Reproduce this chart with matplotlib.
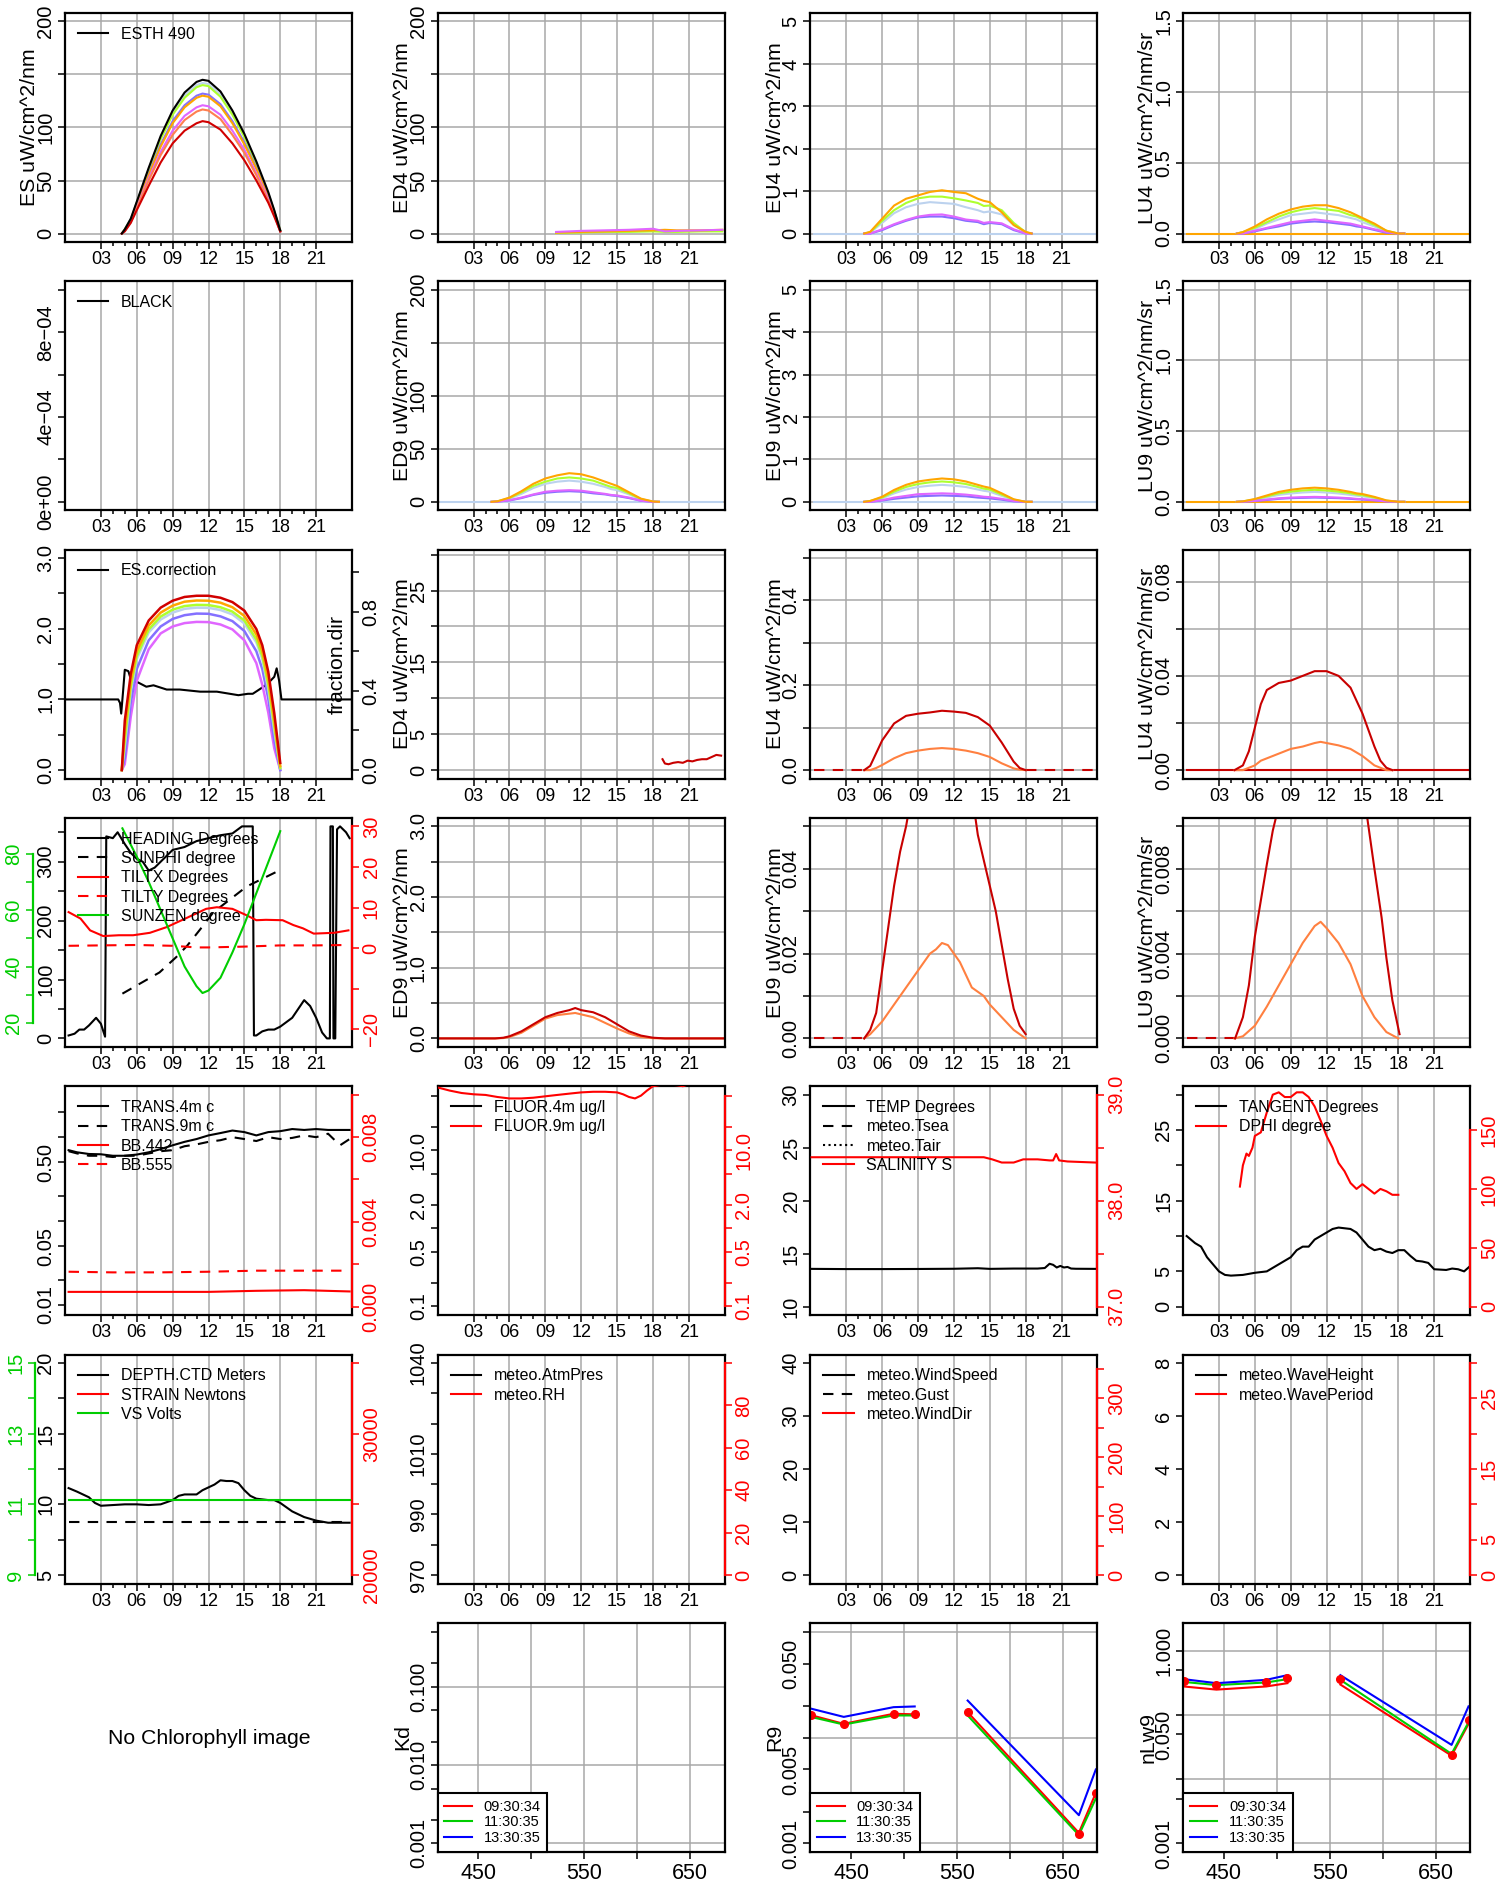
import numpy as np
import matplotlib.pyplot as plt
from matplotlib.lines import Line2D
from matplotlib.ticker import NullLocator

plt.rcParams['font.family'] = ['Liberation Sans', 'DejaVu Sans']

W, H = 1510, 1884
YT, XT, YL, LEG = 14.5, 13, 15.3, 11.5

# colours
C_LBLUE = '#bcd2ee'
C_GYEL = '#adff2f'
C_SBLUE = '#8470ff'
C_ORANGE = '#ffa500'
C_VIOLET = '#e066ff'
C_CORAL = '#ff7f50'
C_RED = '#d00000'
C_DRED = '#c80000'
C_LRED = '#ff8040'
RED = '#ff0000'
GREEN = '#00cd00'
BLUE = '#0000ff'
GRID = '#a8a8a8'

hour_ticks = [3, 6, 9, 12, 15, 18, 21]
hour_labels = ['03', '06', '09', '12', '15', '18', '21']
minor_hours = [4, 5, 7, 8, 10, 11, 13, 14, 16, 17, 19, 20]

# ---------------- row 1/2 : surface + in-water radiometry ----------------
es_t = [4.75, 5, 5.5, 6, 7, 8, 9, 10, 11, 11.5, 12, 13, 14, 15, 16, 17, 17.5, 18]
es_esth = [0, 4, 14, 30, 62, 92, 116, 133, 143, 145, 144, 134, 116, 94, 68, 39, 22, 3]
es_lblue = [0, 4, 14, 29, 61, 90, 114, 130, 140, 142, 141, 131, 114, 92, 66, 38, 21, 3]
es_gyel = [0, 4, 13, 29, 60, 89, 112, 128, 138, 140, 139, 129, 112, 91, 65, 37, 21, 3]
es_sblue = [0, 3, 12, 27, 56, 84, 106, 121, 130, 132, 131, 122, 106, 86, 62, 36, 20, 2]
es_orange = [0, 3, 12, 27, 55, 82, 104, 119, 128, 130, 129, 120, 104, 84, 61, 35, 20, 2]
es_violet = [0, 3, 11, 25, 52, 77, 97, 111, 119, 121, 120, 112, 97, 79, 57, 33, 18, 2]
es_coral = [0, 3, 11, 24, 50, 74, 93, 107, 115, 117, 116, 108, 93, 76, 55, 31, 18, 2]
es_red = [0, 2, 10, 22, 45, 67, 85, 97, 104, 106, 105, 98, 85, 69, 50, 29, 16, 2]

base_t = [0.3, 23.8]
base_v = [0, 0]

ed4_t = [9.9, 12, 14, 16, 18, 19, 20, 22, 23.8]
ed4_violet = [1.5, 2.5, 3, 3.5, 4.5, 2, 2.5, 3, 3.5]
ed4_orange = [0.8, 1.5, 2, 2.5, 3, 3.5, 3, 3, 3.5]
ed4_gyel = [0.5, 1, 1.5, 1.5, 2, 1.5, 1.5, 2, 2]

uw_t = [4.5, 5, 6, 7, 8, 9, 10, 11, 12, 13, 14, 14.5, 15, 16, 17, 18, 18.5]
eu4_orange = [0, 0.04, 0.35, 0.66, 0.82, 0.9, 0.98, 1.02, 0.98, 0.95, 0.82, 0.77, 0.74, 0.5, 0.2, 0.04, 0]
eu4_gyel = [0, 0.03, 0.3, 0.55, 0.72, 0.83, 0.87, 0.87, 0.83, 0.78, 0.72, 0.65, 0.66, 0.55, 0.25, 0.03, 0]
eu4_lblue = [0, 0.02, 0.25, 0.48, 0.62, 0.7, 0.74, 0.72, 0.7, 0.62, 0.55, 0.5, 0.52, 0.45, 0.2, 0.02, 0]
eu4_violet = [0, 0.0, 0.1, 0.22, 0.32, 0.4, 0.44, 0.45, 0.4, 0.33, 0.3, 0.25, 0.27, 0.24, 0.1, 0.0, 0]
eu4_sblue = [0, 0.0, 0.08, 0.2, 0.3, 0.38, 0.4, 0.4, 0.36, 0.3, 0.27, 0.22, 0.25, 0.22, 0.08, 0.0, 0]

lu4_orange = [0, 0.01, 0.05, 0.1, 0.14, 0.17, 0.19, 0.2, 0.2, 0.18, 0.15, 0.13, 0.11, 0.07, 0.02, 0.0, 0]
lu4_gyel = [0, 0.01, 0.04, 0.08, 0.12, 0.15, 0.17, 0.18, 0.17, 0.16, 0.13, 0.12, 0.1, 0.06, 0.02, 0.0, 0]
lu4_lblue = [0, 0.01, 0.03, 0.07, 0.1, 0.13, 0.14, 0.15, 0.14, 0.13, 0.11, 0.1, 0.08, 0.05, 0.01, 0.0, 0]
lu4_violet = [0, 0.0, 0.02, 0.04, 0.06, 0.08, 0.09, 0.1, 0.09, 0.08, 0.07, 0.06, 0.05, 0.03, 0.01, 0.0, 0]
lu4_sblue = [0, 0.0, 0.015, 0.035, 0.05, 0.07, 0.08, 0.085, 0.08, 0.07, 0.06, 0.05, 0.045, 0.025, 0.005, 0.0, 0]

ed9_orange = [0, 0.5, 4, 10, 17, 22, 25, 27, 26, 23, 19, 17, 15, 9, 3, 0.3, 0]
ed9_gyel = [0, 0.4, 3.5, 9, 15, 19, 22, 23, 22, 20, 16, 14, 13, 8, 2.5, 0.2, 0]
ed9_lblue = [0, 0.3, 3, 7.5, 13, 17, 19, 20, 19, 17, 14, 12, 11, 7, 2, 0.2, 0]
ed9_violet = [0, 0.2, 1.5, 4, 7, 9.5, 10.5, 11, 10.5, 9, 7.5, 6.5, 6, 4, 1, 0, 0]
ed9_sblue = [0, 0.2, 1.3, 3.5, 6.5, 8.5, 9.5, 10, 9.5, 8, 7, 6, 5.5, 3.5, 1, 0, 0]

eu9_orange = [0, 0.02, 0.12, 0.28, 0.4, 0.48, 0.52, 0.55, 0.53, 0.48, 0.4, 0.36, 0.33, 0.2, 0.06, 0.0, 0]
eu9_gyel = [0, 0.02, 0.1, 0.24, 0.35, 0.42, 0.46, 0.48, 0.46, 0.42, 0.35, 0.31, 0.29, 0.17, 0.05, 0.0, 0]
eu9_lblue = [0, 0.01, 0.08, 0.2, 0.29, 0.35, 0.38, 0.4, 0.38, 0.35, 0.29, 0.26, 0.24, 0.14, 0.04, 0.0, 0]
eu9_violet = [0, 0.0, 0.04, 0.1, 0.14, 0.18, 0.19, 0.2, 0.19, 0.17, 0.14, 0.12, 0.11, 0.07, 0.02, 0.0, 0]
eu9_sblue = [0, 0.0, 0.03, 0.07, 0.1, 0.13, 0.14, 0.15, 0.14, 0.13, 0.1, 0.09, 0.08, 0.05, 0.01, 0.0, 0]

lu9_orange = [0, 0.003, 0.02, 0.045, 0.07, 0.085, 0.095, 0.1, 0.095, 0.085, 0.07, 0.06, 0.055, 0.035, 0.01, 0.0, 0]
lu9_gyel = [0, 0.003, 0.017, 0.038, 0.06, 0.072, 0.08, 0.085, 0.08, 0.072, 0.06, 0.052, 0.047, 0.03, 0.008, 0, 0]
lu9_lblue = [0, 0.002, 0.014, 0.031, 0.049, 0.059, 0.066, 0.07, 0.066, 0.059, 0.049, 0.043, 0.039, 0.025, 0.007, 0, 0]
lu9_violet = [0, 0.001, 0.007, 0.016, 0.025, 0.03, 0.033, 0.035, 0.033, 0.03, 0.025, 0.021, 0.019, 0.012, 0.003, 0, 0]
lu9_sblue = [0, 0.001, 0.006, 0.013, 0.021, 0.026, 0.028, 0.03, 0.028, 0.026, 0.021, 0.018, 0.016, 0.01, 0.003, 0, 0]

# ---------------- row 3 : ES correction / fraction of direct ----------------
esc_t = [0.1, 4.45, 4.6, 4.7, 4.85, 5.0, 5.3, 5.6, 6.0, 6.8, 7.4, 8.5, 9.6, 11.3, 12.7,
         14.5, 15.3, 15.7, 16.6, 17.1, 17.5, 17.7, 17.9, 18.1, 23.9]
esc_v = [1.0, 1.0, 0.95, 0.8, 1.1, 1.42, 1.4, 1.23, 1.25, 1.18, 1.2, 1.14, 1.14, 1.11, 1.11,
         1.06, 1.08, 1.08, 1.18, 1.25, 1.32, 1.44, 1.27, 1.0, 1.0]
frac_t = [4.75, 5.0, 5.5, 6, 7, 8, 9, 10, 11, 12, 13, 14, 15, 16, 16.5, 17, 17.5, 18]
frac_red = [0, 0.25, 0.485, 0.63, 0.755, 0.82, 0.855, 0.874, 0.88, 0.88, 0.87, 0.848, 0.805, 0.712, 0.63, 0.496, 0.288, 0.036]
frac_orange = [0, 0.2, 0.45, 0.6, 0.73, 0.795, 0.83, 0.85, 0.856, 0.855, 0.845, 0.822, 0.778, 0.685, 0.6, 0.46, 0.25, 0.02]
frac_gyel = [0, 0.15, 0.42, 0.575, 0.71, 0.775, 0.81, 0.828, 0.834, 0.833, 0.822, 0.8, 0.755, 0.66, 0.575, 0.43, 0.22, 0.01]
frac_lblue = [0, 0.12, 0.4, 0.56, 0.695, 0.76, 0.795, 0.814, 0.82, 0.819, 0.808, 0.786, 0.74, 0.645, 0.56, 0.41, 0.2, 0.01]
frac_sblue = [0, 0.06, 0.34, 0.51, 0.655, 0.725, 0.763, 0.782, 0.79, 0.789, 0.776, 0.752, 0.702, 0.6, 0.51, 0.36, 0.15, 0.0]
frac_violet = [0, 0.03, 0.27, 0.45, 0.61, 0.69, 0.725, 0.742, 0.748, 0.747, 0.735, 0.71, 0.655, 0.54, 0.43, 0.29, 0.11, 0.0]

ed4b_t = [18.8, 19.0, 19.3, 19.7, 20.1, 20.5, 20.9, 21.3, 21.7, 22.1, 22.5, 22.9, 23.3, 23.7]
ed4b_v = [1.5, 0.9, 0.8, 1.0, 1.1, 1.0, 1.3, 1.2, 1.4, 1.5, 1.5, 1.8, 2.1, 2.0]

eu4b_t = [4.5, 5, 5.5, 6, 7, 8, 9, 10, 11, 12, 13, 14, 15, 16, 17, 17.5, 18]
eu4b_dred = [0, 0.01, 0.04, 0.07, 0.11, 0.128, 0.133, 0.136, 0.14, 0.138, 0.135, 0.125, 0.105, 0.065, 0.02, 0.005, 0]
eu4b_lred = [0, 0.0, 0.005, 0.012, 0.028, 0.04, 0.046, 0.05, 0.052, 0.05, 0.046, 0.04, 0.031, 0.016, 0.004, 0.001, 0]
night1_t = [0.3, 4.5]
night2_t = [18.0, 23.8]
night_v = [0, 0]

lu4b_t = [4.3, 5, 5.5, 6, 6.5, 7, 8, 9, 10, 11, 11.5, 12, 13, 14, 15, 15.5, 16, 16.5, 17, 17.5]
lu4b_dred = [0, 0.002, 0.008, 0.018, 0.028, 0.034, 0.037, 0.038, 0.04, 0.042, 0.042, 0.042, 0.04, 0.035, 0.024, 0.017, 0.01, 0.004, 0.001, 0]
lu4b_lred = [0, 0, 0.001, 0.002, 0.004, 0.005, 0.007, 0.009, 0.01, 0.0115, 0.012, 0.0115, 0.0105, 0.009, 0.006, 0.004, 0.002, 0.001, 0, 0]

# ---------------- row 4 : attitude + depth-9m radiometry ----------------
head_t = [0.3, 0.8, 1.2, 1.6, 2.0, 2.6, 3.0, 3.35, 3.45, 4.0, 4.4, 5.0, 5.5, 6.0, 6.5, 7.0, 7.5, 8.0,
          9.0, 10.0, 11.0, 12.0, 13.0, 14.0, 14.8, 15.7, 15.8, 16.0, 16.5, 17.0, 17.5, 18.0, 19.0,
          19.5, 20.0, 20.5, 21.0, 21.5, 21.9, 22.15, 22.2, 22.4, 22.45, 22.6, 22.75, 23.0, 23.5, 23.8]
head_v = [5, 8, 15, 15, 22, 35, 25, 3, 343, 340, 350, 330, 315, 305, 300, 285, 290, 300,
          320, 325, 335, 340, 345, 348, 360, 360, 5, 5, 12, 15, 15, 20, 35,
          50, 65, 55, 35, 10, 0, 0, 360, 360, 0, 0, 355, 360, 350, 340]
sunphi_t = [4.8, 7.9, 9.3, 10.2, 11.3, 12.4, 13.8, 15.2, 16.6, 17.8]
sunphi_v = [76, 112, 138, 157, 185, 214, 236, 258, 272, 284]
tiltx_t = [0.3, 1.3, 2.1, 3.2, 4.5, 5.7, 7.1, 8.5, 10.2, 11.8, 12.7, 14.0, 15.2, 16.0, 16.8, 18.2,
           19.1, 19.9, 20.8, 22.5, 23.7]
tiltx_v = [8.9, 7.3, 4.4, 3.0, 3.2, 3.2, 3.8, 5.2, 7.5, 9.7, 10.1, 9.7, 8.1, 6.9, 7.0, 6.9,
           5.7, 4.9, 3.6, 3.8, 4.4]
tilty_t = [0.3, 3, 6, 9, 11, 12, 15, 18, 21, 23.7]
tilty_v = [0.6, 0.7, 0.8, 0.6, 0.2, 0.2, 0.4, 0.7, 0.7, 0.8]
sunzen_t = [4.8, 6, 7, 8, 9, 10, 11, 11.5, 12, 13, 14, 15, 16, 17, 18]
sunzen_v = [89, 79, 70, 60, 50, 40, 33, 30.6, 31.5, 36, 45, 55, 66, 77, 88]

ed9b_t = [0.1, 4.8, 5.5, 6, 7, 8, 9, 10, 11, 11.5, 12, 13, 14, 15, 16, 17, 18, 19, 23.9]
ed9b_dred = [0, 0, 0.01, 0.03, 0.1, 0.2, 0.3, 0.36, 0.4, 0.43, 0.4, 0.37, 0.3, 0.2, 0.1, 0.04, 0.01, 0, 0]
ed9b_lred = [0, 0, 0.005, 0.02, 0.08, 0.18, 0.28, 0.33, 0.35, 0.36, 0.34, 0.3, 0.22, 0.14, 0.07, 0.02, 0.003, 0, 0]

eu9b_dred_t = [4.5, 5, 5.5, 6, 6.5, 7, 7.5, 8, 8.5, 13.5, 14, 14.5, 15, 15.5, 16, 16.5, 17, 17.5, 18]
eu9b_dred = [0, 0.002, 0.006, 0.016, 0.026, 0.036, 0.044, 0.05, 0.058, 0.058, 0.048, 0.042, 0.036, 0.03, 0.022, 0.014, 0.007, 0.003, 0.001]
eu9b_lred_t = [4.5, 5, 6, 7, 8, 9, 10, 10.5, 11, 11.5, 12, 12.5, 13, 13.5, 14, 14.5, 15, 16, 17, 18]
eu9b_lred = [0, 0.001, 0.004, 0.008, 0.012, 0.016, 0.02, 0.021, 0.0225, 0.022, 0.02, 0.018, 0.015, 0.012, 0.011, 0.01, 0.008, 0.005, 0.002, 0]

lu9b_dred_t = [4.35, 5, 5.5, 6, 6.5, 7, 7.5, 7.8, 8.2, 14.8, 15.4, 16.0, 16.6, 17.0, 17.5, 18.1]
lu9b_dred = [0, 0.001, 0.0025, 0.0048, 0.0065, 0.0082, 0.0098, 0.0105, 0.012, 0.012, 0.0104, 0.008, 0.0057, 0.0038, 0.0018, 0.0002]
lu9b_lred_t = [4.3, 5, 6, 7, 8, 9, 10, 11, 11.5, 12, 13, 14, 15, 16, 17, 18]
lu9b_lred = [0, 0.0001, 0.0006, 0.0015, 0.0025, 0.0035, 0.0045, 0.0053, 0.0055, 0.0052, 0.0045, 0.0035, 0.002, 0.001, 0.0003, 0]

# ---------------- row 5 : water properties ----------------
trans_t = [0.3, 1, 2, 3, 4, 5, 6, 7, 8, 9, 10, 11, 12, 13, 14, 15, 16, 17, 18, 19, 20, 21, 22, 23, 23.8]
trans4 = [0.70, 0.66, 0.63, 0.625, 0.60, 0.60, 0.62, 0.66, 0.72, 0.80, 0.88, 0.95, 1.05, 1.12, 1.2,
          1.15, 1.05, 1.15, 1.18, 1.25, 1.22, 1.25, 1.22, 1.22, 1.22]
trans9 = [0.68, 0.64, 0.6, 0.6, 0.58, 0.6, 0.6, 0.64, 0.68, 0.7, 0.78, 0.82, 0.88, 0.92, 1.0,
          0.95, 0.9, 1.0, 0.95, 0.98, 1.05, 1.0, 1.1, 0.8, 0.95]
bb_t = [0.3, 4, 8, 12, 16, 20, 23.8]
bb442 = [0.0007, 0.0007, 0.0007, 0.0007, 0.00075, 0.00078, 0.00072]
bb555 = [0.00165, 0.00162, 0.00162, 0.00165, 0.0017, 0.0017, 0.0017]

fluor_t = [0.1, 1, 2, 3, 4, 5, 6, 7, 8, 9, 10, 11, 12, 13, 14, 15, 15.5, 16, 16.5, 17, 17.5,
           18, 19, 20, 20.5, 21, 22, 23, 23.9]
fluor9 = [63, 58, 54, 52, 51, 48, 46, 46, 47, 49, 51, 53, 55, 56, 56, 55, 52, 48, 46, 50, 58,
          66, 70, 68, 66, 70, 75, 75, 75]

temp_t = [0.1, 3, 6, 9, 12, 14, 15, 17, 19, 19.6, 20.0, 20.3, 20.6, 20.9, 21.2, 21.5, 21.8, 22.2, 23.8]
temp_v = [13.57, 13.55, 13.55, 13.56, 13.58, 13.63, 13.57, 13.6, 13.6, 13.65, 14.05, 13.95, 13.7,
          13.85, 13.7, 13.75, 13.6, 13.58, 13.57]
sal_t = [0.1, 3, 6, 9, 12, 14.5, 15.2, 16, 17, 17.8, 19, 20, 20.3, 20.55, 20.8, 21.5, 23.8]
sal_v = [38.41, 38.41, 38.41, 38.41, 38.41, 38.41, 38.39, 38.36, 38.36, 38.39, 38.39, 38.38,
         38.38, 38.44, 38.38, 38.37, 38.36]

tang_t = [0.3, 1, 1.5, 2, 2.5, 3, 3.5, 4, 5, 6, 7, 7.5, 8, 9, 9.5, 10, 10.5, 11, 12, 12.5, 13, 14,
          14.5, 15, 15.5, 16, 16.5, 17, 17.5, 18, 18.5, 19, 19.5, 20, 20.5, 21, 22, 22.5, 23, 23.5, 23.9]
tang_v = [10, 9, 8.5, 7, 6, 5, 4.5, 4.4, 4.5, 4.8, 5, 5.5, 6, 7, 8, 8.5, 8.5, 9.5, 10.5, 11, 11.2, 11,
          10.5, 9.5, 8.5, 8, 8.2, 7.8, 7.6, 8, 8, 7.2, 6.5, 6.4, 6.2, 5.3, 5.2, 5.4, 5.3, 5.0, 5.6]
dphi_t = [4.75, 5, 5.3, 5.5, 5.8, 6, 6.5, 7, 7.5, 8, 8.5, 9, 9.5, 10, 10.5, 11, 11.5, 12, 12.5,
          13, 13.5, 14, 14.5, 15, 15.5, 16, 16.5, 17, 17.5, 18]
dphi_v = [102, 120, 130, 128, 135, 145, 148, 165, 180, 182, 178, 178, 182, 182, 178, 170, 158, 145,
          135, 122, 115, 105, 100, 104, 100, 96, 100, 98, 95, 95]

# ---------------- row 6 : depth / meteo ----------------
depth_t = [0.3, 1, 2, 2.5, 3, 4, 5, 6, 7, 8, 9, 9.5, 10, 11, 11.5, 12, 12.5, 13, 13.5, 14, 14.5,
           15, 15.5, 16, 17, 17.5, 18, 18.5, 19, 20, 21, 22, 23, 23.8]
depth_v = [11.15, 10.9, 10.5, 10.1, 9.9, 9.95, 10.0, 10.0, 9.95, 10.0, 10.3, 10.6, 10.7, 10.7, 11.0,
           11.2, 11.4, 11.7, 11.65, 11.65, 11.5, 11.0, 10.6, 10.4, 10.3, 10.3, 10.1, 9.8, 9.5, 9.1,
           8.85, 8.7, 8.7, 8.7]
depth_nom_t = [0.3, 23.8]
depth_nom_v = [8.73, 8.73]
vs_t = [0.3, 23.8]
vs_v = [11.13, 11.13]

# ---------------- row 7 : spectra ----------------
wl = [412, 443, 490, 510, 535, 560, 665, 681]
r9_0930 = [0.0163, 0.0135, 0.0168, 0.0166, np.nan, 0.0174, 0.00126, 0.0030]
r9_1130 = [0.0157, 0.0133, 0.0162, 0.0162, np.nan, 0.0162, 0.00120, 0.00266]
r9_1330 = [0.0188, 0.0157, 0.0194, 0.0197, np.nan, 0.0224, 0.00185, 0.0050]
r9_pts = [0.0163, 0.0135, 0.0168, 0.0166, np.nan, 0.0176, 0.00124, 0.0030]
nlw_0930 = [0.28, 0.25, 0.28, 0.315, np.nan, 0.30, 0.0234, 0.073]
nlw_1130 = [0.33, 0.294, 0.323, 0.364, np.nan, 0.355, 0.0249, 0.0773]
nlw_1330 = [0.364, 0.315, 0.355, 0.42, np.nan, 0.42, 0.0344, 0.137]
nlw_pts = [0.343, 0.294, 0.33, 0.377, np.nan, 0.364, 0.0240, 0.085]
times_lab = ['09:30:34', '11:30:35', '13:30:35']

fig = plt.figure(figsize=(W / 100, H / 100), dpi=100)


def make_ax(row, col):
    left = 65 + 372.7 * col
    top = 13 + 268.3 * row
    ax = fig.add_axes([left / W, 1 - (top + 229) / H, 287 / W, 229 / H])
    for s in ax.spines.values():
        s.set_linewidth(1.6)
    return ax


def time_axis(ax):
    ax.set_xlim(0, 24)
    ax.set_xticks(hour_ticks, hour_labels)
    ax.set_xticks(minor_hours, minor=True)
    ax.tick_params(axis='x', which='major', length=5, width=1.1, labelsize=XT, pad=1.5)
    ax.tick_params(axis='x', which='minor', length=3, width=1.1)
    for h in hour_ticks:
        ax.axvline(h, color=GRID, lw=1.1, zorder=0)


def y_axis(ax, lim, ticks, labels, ylabel=None, grid=None, log=False):
    if log:
        ax.set_yscale('log')
    ax.set_ylim(*lim)
    ax.set_yticks(ticks, labels)
    ax.yaxis.set_minor_locator(NullLocator())
    ax.tick_params(axis='y', which='major', length=5, width=1.1, labelsize=YT,
                   labelrotation=90, pad=2)
    plt.setp(ax.get_yticklabels(), va='center')
    if grid is not None:
        for g in grid:
            ax.axhline(g, color=GRID, lw=1.1, zorder=0)
    if ylabel:
        ax.set_ylabel(ylabel, fontsize=YL)
        ax.yaxis.set_label_coords(-0.09, 0.5)


def right_axis(ax, lim, ticks, labels, color, log=False):
    ax2 = ax.twinx()
    if log:
        ax2.set_yscale('log')
    ax2.set_ylim(*lim)
    ax2.set_yticks(ticks, labels)
    ax2.yaxis.set_minor_locator(NullLocator())
    ax2.tick_params(axis='y', length=5, width=1.1, labelsize=YT, labelrotation=90,
                    pad=2, colors=color)
    plt.setp(ax2.get_yticklabels(), va='center')
    for s in ('left', 'top', 'bottom'):
        ax2.spines[s].set_visible(False)
    ax2.spines['right'].set_color(color)
    ax2.spines['right'].set_linewidth(1.6)
    ax2.spines['right'].set_bounds(ticks[0], ticks[-1])
    return ax2


def outer_axis(ax, lim, ticks, labels, color, offset):
    ax3 = fig.add_axes(ax.get_position().bounds)
    ax3.patch.set_visible(False)
    ax3.set_xlim(0, 24)
    ax3.set_xticks([])
    for s in ('right', 'top', 'bottom'):
        ax3.spines[s].set_visible(False)
    sp = ax3.spines['left']
    sp.set_position(('axes', offset))
    sp.set_color(color)
    sp.set_linewidth(1.6)
    ax3.set_ylim(*lim)
    ax3.set_yticks(ticks, labels)
    sp.set_bounds(ticks[0], ticks[-1])
    ax3.tick_params(axis='y', length=5, width=1.1, labelsize=YT, labelrotation=90,
                    pad=2, colors=color)
    plt.setp(ax3.get_yticklabels(), va='center')
    return ax3


def legend(ax, entries):
    handles = [Line2D([], [], color=c, ls=ls, lw=1.5) for _, c, ls in entries]
    ax.legend(handles, [e[0] for e in entries], loc='upper left',
              bbox_to_anchor=(0.045, 0.94), frameon=False, fontsize=LEG,
              handlelength=1.9, handletextpad=0.8, labelspacing=0.27,
              borderaxespad=0, borderpad=0)


DASH = (0, (5, 4))
LW = 1.5

# ====== row 1 ======
ax = make_ax(0, 0)
time_axis(ax)
y_axis(ax, (-8, 208), [0, 50, 100, 150, 200], ['0', '50', '100', '', '200'],
       'ES uW/cm^2/nm', grid=[0, 50, 100, 150, 200])
for v, c in [(es_lblue, C_LBLUE), (es_gyel, C_GYEL), (es_sblue, C_SBLUE), (es_orange, C_ORANGE),
             (es_violet, C_VIOLET), (es_coral, C_CORAL), (es_red, C_RED), (es_esth, 'black')]:
    ax.plot(es_t, v, color=c, lw=LW)
legend(ax, [('ESTH 490', 'black', '-')])

ax = make_ax(0, 1)
time_axis(ax)
y_axis(ax, (-8, 208), [0, 50, 100, 150, 200], ['0', '50', '100', '', '200'],
       'ED4 uW/cm^2/nm', grid=[0, 50, 100, 150, 200])
ax.plot(ed4_t, ed4_gyel, color=C_GYEL, lw=LW)
ax.plot(ed4_t, ed4_orange, color=C_ORANGE, lw=LW)
ax.plot(ed4_t, ed4_violet, color=C_VIOLET, lw=LW)

for col, lim, ticks, labs, name, sets in [
        (2, (-0.2, 5.2), [0, 1, 2, 3, 4, 5], ['0', '1', '2', '3', '4', '5'], 'EU4 uW/cm^2/nm',
         [eu4_lblue, eu4_gyel, eu4_sblue, eu4_violet, eu4_orange]),
        (3, (-0.06, 1.56), [0, 0.5, 1.0, 1.5], ['0.0', '0.5', '1.0', '1.5'], 'LU4 uW/cm^2/nm/sr',
         [lu4_lblue, lu4_gyel, lu4_sblue, lu4_violet, lu4_orange])]:
    ax = make_ax(0, col)
    time_axis(ax)
    y_axis(ax, lim, ticks, labs, name, grid=ticks)
    ax.plot(base_t, base_v, color=C_LBLUE if col == 2 else C_ORANGE, lw=LW)
    for v, c in zip(sets, [C_LBLUE, C_GYEL, C_SBLUE, C_VIOLET, C_ORANGE]):
        ax.plot(uw_t, v, color=c, lw=LW)

# ====== row 2 ======
ax = make_ax(1, 0)
time_axis(ax)
y_axis(ax, (-4e-5, 1.04e-3), [0, 2e-4, 4e-4, 6e-4, 8e-4, 1e-3],
       ['0e+00', '', '4e\u221204', '', '8e\u221204', ''])
legend(ax, [('BLACK', 'black', '-')])

for col, lim, ticks, labs, name, sets in [
        (1, (-8, 208), [0, 50, 100, 150, 200], ['0', '50', '100', '', '200'], 'ED9 uW/cm^2/nm',
         [ed9_lblue, ed9_gyel, ed9_sblue, ed9_violet, ed9_orange]),
        (2, (-0.2, 5.2), [0, 1, 2, 3, 4, 5], ['0', '1', '2', '3', '4', '5'], 'EU9 uW/cm^2/nm',
         [eu9_lblue, eu9_gyel, eu9_sblue, eu9_violet, eu9_orange]),
        (3, (-0.06, 1.56), [0, 0.5, 1.0, 1.5], ['0.0', '0.5', '1.0', '1.5'], 'LU9 uW/cm^2/nm/sr',
         [lu9_lblue, lu9_gyel, lu9_sblue, lu9_violet, lu9_orange])]:
    ax = make_ax(1, col)
    time_axis(ax)
    y_axis(ax, lim, ticks, labs, name, grid=ticks)
    ax.plot(base_t, base_v, color=C_LBLUE if col < 3 else C_ORANGE, lw=LW)
    for v, c in zip(sets, [C_LBLUE, C_GYEL, C_SBLUE, C_VIOLET, C_ORANGE]):
        ax.plot(uw_t, v, color=c, lw=LW)

# ====== row 3 ======
ax = make_ax(2, 0)
time_axis(ax)
y_axis(ax, (-0.12, 3.12), [0, 0.5, 1.0, 1.5, 2.0, 2.5, 3.0],
       ['0.0', '', '1.0', '', '2.0', '', '3.0'])
ax.plot(esc_t, esc_v, color='black', lw=LW)
ax2 = right_axis(ax, (-0.043, 1.113), [0, 0.2, 0.4, 0.6, 0.8, 1.0],
                 ['0.0', '', '0.4', '', '0.8', ''], 'black')
for v, c in [(frac_violet, C_VIOLET), (frac_sblue, C_SBLUE), (frac_lblue, C_LBLUE),
             (frac_gyel, C_GYEL), (frac_orange, C_ORANGE), (frac_red, C_RED)]:
    ax2.plot(frac_t, v, color=c, lw=LW + 0.3)
ax2.text(0.948, 0.5, 'fraction.dir', transform=ax2.transAxes, rotation=90,
         ha='center', va='center', fontsize=YL)
legend(ax2, [('ES.correction', 'black', '-')])

ax = make_ax(2, 1)
time_axis(ax)
y_axis(ax, (-1.2, 30.7), [0, 5, 10, 15, 20, 25, 30], ['0', '5', '', '15', '', '25', ''],
       'ED4 uW/cm^2/nm', grid=[0, 5, 10, 15, 20, 25, 30])
ax.plot(ed4b_t, ed4b_v, color=C_DRED, lw=LW)

ax = make_ax(2, 2)
time_axis(ax)
y_axis(ax, (-0.02, 0.52), [0, 0.1, 0.2, 0.3, 0.4, 0.5], ['0.0', '', '0.2', '', '0.4', ''],
       'EU4 uW/cm^2/nm', grid=[0, 0.1, 0.2, 0.3, 0.4, 0.5])
ax.plot(night1_t, night_v, color=C_DRED, lw=LW, ls=DASH)
ax.plot(night2_t, night_v, color=C_DRED, lw=LW, ls=DASH)
ax.plot(eu4b_t, eu4b_lred, color=C_LRED, lw=LW)
ax.plot(eu4b_t, eu4b_dred, color=C_DRED, lw=LW)

ax = make_ax(2, 3)
time_axis(ax)
y_axis(ax, (-0.0036, 0.0936), [0, 0.02, 0.04, 0.06, 0.08], ['0.00', '', '0.04', '', '0.08'],
       'LU4 uW/cm^2/nm/sr', grid=[0, 0.02, 0.04, 0.06, 0.08])
ax.plot(base_t, base_v, color=C_DRED, lw=LW)
ax.plot(lu4b_t, lu4b_lred, color=C_LRED, lw=LW)
ax.plot(lu4b_t, lu4b_dred, color=C_DRED, lw=LW)

# ====== row 4 ======
ax = make_ax(3, 0)
time_axis(ax)
y_axis(ax, (-14.4, 374.4), [0, 50, 100, 150, 200, 250, 300, 350],
       ['0', '', '100', '', '200', '', '300', ''])
ax.plot(head_t, head_v, color='black', lw=LW)
ax.plot(sunphi_t, sunphi_v, color='black', lw=LW, ls=DASH)
ax2 = right_axis(ax, (-24.3, 32.1), [-20, -10, 0, 10, 20, 30],
                 ['\u221220', '', '0', '10', '20', '30'], RED)
ax2.plot(tiltx_t, tiltx_v, color=RED, lw=LW)
ax2.plot(tilty_t, tilty_v, color=RED, lw=LW, ls=DASH)
ax3 = outer_axis(ax, (11.5, 92.7), [20, 30, 40, 50, 60, 70, 80],
                 ['20', '', '40', '', '60', '', '80'], GREEN, -0.111)
ax3.plot(sunzen_t, sunzen_v, color=GREEN, lw=LW)
legend(ax3, [('HEADING Degrees', 'black', '-'), ('SUNPHI degree', 'black', DASH),
             ('TILTX Degrees', RED, '-'), ('TILTY Degrees', RED, DASH),
             ('SUNZEN degree', GREEN, '-')])

ax = make_ax(3, 1)
time_axis(ax)
y_axis(ax, (-0.12, 3.12), [0, 0.5, 1.0, 1.5, 2.0, 2.5, 3.0],
       ['0.0', '', '1.0', '', '2.0', '', '3.0'], 'ED9 uW/cm^2/nm',
       grid=[0, 0.5, 1.0, 1.5, 2.0, 2.5, 3.0])
ax.plot(ed9b_t, ed9b_lred, color=C_LRED, lw=LW)
ax.plot(ed9b_t, ed9b_dred, color=C_DRED, lw=LW)

ax = make_ax(3, 2)
time_axis(ax)
y_axis(ax, (-0.002, 0.052), [0, 0.01, 0.02, 0.03, 0.04, 0.05],
       ['0.00', '', '0.02', '', '0.04', ''], 'EU9 uW/cm^2/nm',
       grid=[0, 0.01, 0.02, 0.03, 0.04, 0.05])
ax.plot(night1_t, night_v, color=C_DRED, lw=LW, ls=DASH)
ax.plot(eu9b_lred_t, eu9b_lred, color=C_LRED, lw=LW)
ax.plot(eu9b_dred_t, eu9b_dred, color=C_DRED, lw=LW)

ax = make_ax(3, 3)
time_axis(ax)
y_axis(ax, (-0.0004, 0.0104), [0, 0.002, 0.004, 0.006, 0.008, 0.010],
       ['0.000', '', '0.004', '', '0.008', ''], 'LU9 uW/cm^2/nm/sr',
       grid=[0, 0.002, 0.004, 0.006, 0.008, 0.010])
ax.plot(night1_t, night_v, color=C_DRED, lw=LW, ls=DASH)
ax.plot(lu9b_lred_t, lu9b_lred, color=C_LRED, lw=LW)
ax.plot(lu9b_dred_t, lu9b_dred, color=C_DRED, lw=LW)

# ====== row 5 ======
ax = make_ax(4, 0)
time_axis(ax)
y_axis(ax, (0.0075, 4.06), [0.01, 0.02, 0.05, 0.1, 0.2, 0.5, 1, 2],
       ['0.01', '', '0.05', '', '', '0.50', '', ''], log=True)
ax.plot(trans_t, trans4, color='black', lw=LW)
ax.plot(trans_t, trans9, color='black', lw=LW, ls=DASH)
ax2 = right_axis(ax, (-0.0004, 0.0104), [0, 0.002, 0.004, 0.006, 0.008, 0.010],
                 ['0.000', '', '0.004', '', '0.008', ''], RED)
ax2.plot(bb_t, bb442, color=RED, lw=LW)
ax2.plot(bb_t, bb555, color=RED, lw=LW, ls=DASH)
legend(ax2, [('TRANS.4m c', 'black', '-'), ('TRANS.9m c', 'black', DASH),
             ('BB.442', RED, '-'), ('BB.555', RED, DASH)])

ax = make_ax(4, 1)
time_axis(ax)
fl_ticks = [0.1, 0.2, 0.5, 1, 2, 5, 10, 20, 50]
fl_labs = ['0.1', '', '0.5', '', '2.0', '', '10.0', '', '']
y_axis(ax, (0.077, 66), fl_ticks, fl_labs, log=True)
ax2 = right_axis(ax, (0.077, 66), fl_ticks, fl_labs, RED, log=True)
ax2.plot(fluor_t, fluor9, color=RED, lw=LW)
legend(ax2, [('FLUOR.4m ug/l', 'black', '-'), ('FLUOR.9m ug/l', RED, '-')])

ax = make_ax(4, 2)
time_axis(ax)
y_axis(ax, (9.2, 30.8), [10, 15, 20, 25, 30], ['10', '15', '20', '25', '30'])
ax.plot(temp_t, temp_v, color='black', lw=LW)
ax2 = right_axis(ax, (36.92, 39.08), [37.0, 37.5, 38.0, 38.5, 39.0],
                 ['37.0', '', '38.0', '', '39.0'], RED)
ax2.plot(sal_t, sal_v, color=RED, lw=LW)
legend(ax2, [('TEMP Degrees', 'black', '-'), ('meteo.Tsea', 'black', DASH),
             ('meteo.Tair', 'black', ':'), ('SALINITY S', RED, '-')])

ax = make_ax(4, 3)
time_axis(ax)
y_axis(ax, (-1.2, 31.2), [0, 5, 10, 15, 20, 25, 30], ['0', '5', '', '15', '', '25', ''])
ax.plot(tang_t, tang_v, color='black', lw=LW)
ax2 = right_axis(ax, (-7.2, 187.2), [0, 50, 100, 150], ['0', '50', '100', '150'], RED)
ax2.plot(dphi_t, dphi_v, color=RED, lw=LW)
legend(ax2, [('TANGENT Degrees', 'black', '-'), ('DPHI degree', RED, '-')])

# ====== row 6 ======
ax = make_ax(5, 0)
time_axis(ax)
y_axis(ax, (4.4, 20.6), [5, 7.5, 10, 12.5, 15, 17.5, 20], ['5', '', '10', '', '15', '', '20'])
ax.plot(depth_nom_t, depth_nom_v, color='black', lw=LW, ls=DASH)
ax.plot(depth_t, depth_v, color='black', lw=LW)
ax2 = right_axis(ax, (19400, 35600), [20000, 25000, 30000, 35000],
                 ['20000', '', '30000', ''], RED)
ax3 = outer_axis(ax, (8.76, 15.24), [9, 10, 11, 12, 13, 14, 15],
                 ['9', '', '11', '', '13', '', '15'], GREEN, -0.104)
ax3.plot(vs_t, vs_v, color=GREEN, lw=LW)
legend(ax3, [('DEPTH.CTD Meters', 'black', '-'), ('STRAIN Newtons', RED, '-'),
             ('VS Volts', GREEN, '-')])

ax = make_ax(5, 1)
time_axis(ax)
y_axis(ax, (967.2, 1042.8), [970, 980, 990, 1000, 1010, 1020, 1030, 1040],
       ['970', '', '990', '', '1010', '', '', '1040'])
ax2 = right_axis(ax, (-4, 104), [0, 20, 40, 60, 80, 100], ['0', '20', '40', '60', '80', ''], RED)
legend(ax2, [('meteo.AtmPres', 'black', '-'), ('meteo.RH', RED, '-')])

ax = make_ax(5, 2)
time_axis(ax)
y_axis(ax, (-1.6, 41.6), [0, 10, 20, 30, 40], ['0', '10', '20', '30', '40'])
ax2 = right_axis(ax, (-14.4, 374.4), [0, 50, 100, 150, 200, 250, 300, 350],
                 ['0', '', '100', '', '200', '', '300', ''], RED)
legend(ax2, [('meteo.WindSpeed', 'black', '-'), ('meteo.Gust', 'black', DASH),
             ('meteo.WindDir', RED, '-')])

ax = make_ax(5, 3)
time_axis(ax)
y_axis(ax, (-0.32, 8.32), [0, 2, 4, 6, 8], ['0', '2', '4', '6', '8'])
ax2 = right_axis(ax, (-1.2, 31.2), [0, 5, 10, 15, 20, 25, 30],
                 ['0', '5', '', '15', '', '25', ''], RED)
legend(ax2, [('meteo.WaveHeight', 'black', '-'), ('meteo.WavePeriod', RED, '-')])

# ====== row 7 ======
fig.text(209 / W, 1 - 1739 / H, 'No Chlorophyll image', ha='center', va='center', fontsize=YL)


def spectrum_axis(ax, lim, ticks, labs, name, grid):
    ax.set_xlim(411.5, 682.5)
    ax.set_xticks([450, 500, 550, 600, 650], ['450', '', '550', '', '650'])
    ax.tick_params(axis='x', length=5, width=1.1, labelsize=YT + 1, pad=3)
    for x in [450, 500, 550, 600, 650]:
        ax.axvline(x, color=GRID, lw=1.1, zorder=0)
    y_axis(ax, lim, ticks, labs, name, grid=grid, log=True)


def spec_legend(ax):
    handles = [Line2D([], [], color=c, lw=1.5) for c in (RED, GREEN, BLUE)]
    leg = ax.legend(handles, times_lab, loc='lower left', bbox_to_anchor=(0, 0),
                    borderaxespad=0, fontsize=10.5, handlelength=1.9, handletextpad=0.8,
                    labelspacing=0.12, borderpad=0.45, fancybox=False, framealpha=1,
                    edgecolor='black')
    leg.get_frame().set_linewidth(1.5)


ax = make_ax(6, 1)
spectrum_axis(ax, (0.00078, 0.66), [0.001, 0.002, 0.005, 0.01, 0.02, 0.05, 0.1, 0.2, 0.5],
              ['0.001', '', '', '0.010', '', '', '0.100', '', ''], 'Kd', [0.001, 0.01, 0.1])
spec_legend(ax)

ax = make_ax(6, 2)
spectrum_axis(ax, (0.000834, 0.1216), [0.001, 0.002, 0.005, 0.01, 0.02, 0.05, 0.1],
              ['0.001', '', '0.005', '', '', '0.050', ''], 'R9', [0.001, 0.01, 0.1])
ax.plot(wl, r9_0930, color=RED, lw=LW)
ax.plot(wl, r9_1130, color=GREEN, lw=LW)
ax.plot(wl, r9_1330, color=BLUE, lw=LW)
ax.plot(wl, r9_pts, 'o', color=RED, ms=5.5, ls='none')
spec_legend(ax)

ax = make_ax(6, 3)
spectrum_axis(ax, (0.000742, 2.75), [0.001, 0.005, 0.01, 0.05, 0.1, 0.5, 1.0],
              ['0.001', '', '', '0.050', '', '', '1.000'], 'nLw9', [0.001, 0.01, 0.1, 1.0])
ax.plot(wl, nlw_0930, color=RED, lw=LW)
ax.plot(wl, nlw_1130, color=GREEN, lw=LW)
ax.plot(wl, nlw_1330, color=BLUE, lw=LW)
ax.plot(wl, nlw_pts, 'o', color=RED, ms=5.5, ls='none')
spec_legend(ax)

fig.savefig('out.png', dpi=100)
